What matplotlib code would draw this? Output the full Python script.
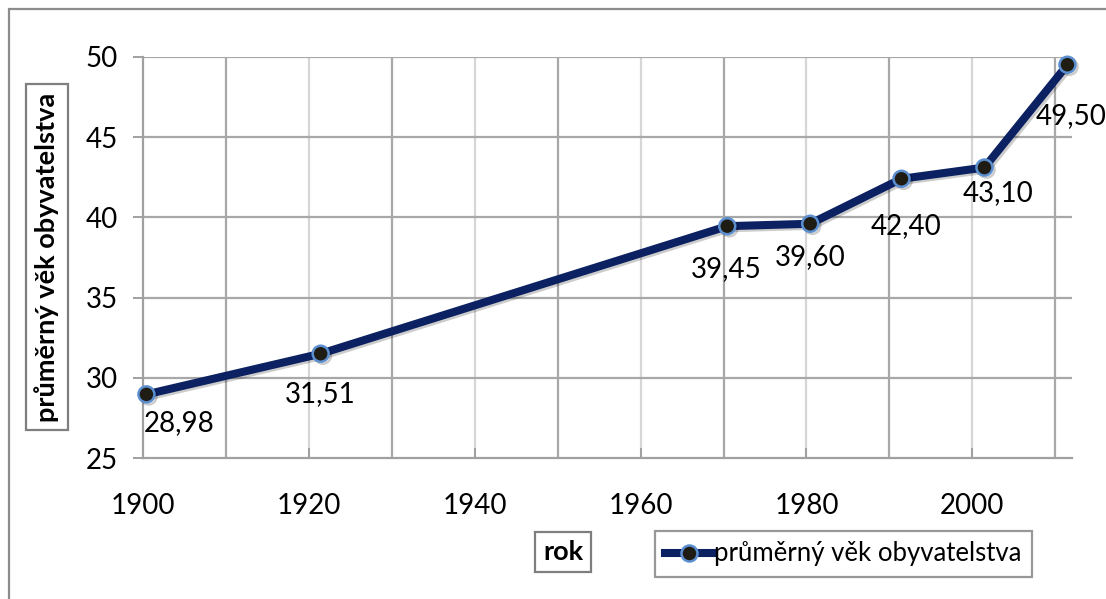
import matplotlib
matplotlib.use("Agg")
import matplotlib.pyplot as plt
import matplotlib.patheffects as pe
from matplotlib.patches import Rectangle

# ---- data ----
years = [1900, 1921, 1970, 1980, 1991, 2001, 2011]
avg_age = [28.98, 31.51, 39.45, 39.60, 42.40, 43.10, 49.50]
value_labels = ["28,98", "31,51", "39,45", "39,60", "42,40", "43,10", "49,50"]
series_name = "průměrný věk obyvatelstva"
x_title = "rok"
y_title = "průměrný věk obyvatelstva"
x_ticks = [1900, 1920, 1940, 1960, 1980, 2000]
y_ticks = [25, 30, 35, 40, 45, 50]

# ---- styling ----
label_offsets_px = [(33, -29), (0, -40), (-1, -43), (0, -33), (5, -47), (14, -26), (4, -51)]
x_shift = 0.45  # points sit mid-year on the date axis
FONT = "Lato"
plt.rcParams['font.family'] = [FONT, 'DejaVu Sans']

W, H = 1106, 599
fig = plt.figure(figsize=(W / 100, H / 100), dpi=100)
fig.patch.set_facecolor("white")

# outer chart border (cropped at right and bottom)
fig.patches.append(Rectangle((8.5 / W, -0.05), 1.2, 1 - 8.5 / H + 0.05, transform=fig.transFigure,
                             fill=False, ec="#8c8c8c", lw=1.6, zorder=0))

L, R, T, B = 142.7, 1072, 56.7, 458.3
ax = fig.add_axes([L / W, 1 - B / H, (R - L) / W, (B - T) / H])
ax.set_xlim(1900, 2012)
ax.set_ylim(25, 50)

# gridlines
for xv in range(1910, 2012, 20):
    ax.axvline(xv, color="#a8a8a8", lw=1.6, zorder=1)
for xv in range(1920, 2012, 20):
    ax.axvline(xv, color="#d6d6d6", lw=1.6, zorder=1)
for yv in y_ticks[1:]:
    ax.axhline(yv, color="#a8a8a8", lw=1.6, zorder=1)

for s in ["top", "right"]:
    ax.spines[s].set_visible(False)
for s in ["left", "bottom"]:
    ax.spines[s].set_color("#a0a0a0")
    ax.spines[s].set_linewidth(1.6)

ax.set_xticks(x_ticks)
ax.set_yticks(y_ticks)
ax.tick_params(axis="x", direction="in", length=7, width=1.4, color="#a0a0a0",
               labelsize=20, pad=25, labelcolor="black")
ax.tick_params(axis="y", direction="out", length=7, width=1.4, color="#a0a0a0",
               labelsize=20, pad=11, labelcolor="black")

xs = [y + x_shift for y in years]
line, = ax.plot(xs, avg_age, color="#0b2161", lw=5.8, marker="o", markersize=11.5,
                markerfacecolor="#1f1c14", markeredgecolor="#5b8fd0", markeredgewidth=1.8,
                zorder=5, clip_on=False, label=series_name,
                path_effects=[pe.SimpleLineShadow(offset=(1.5, -1.5), alpha=0.2, shadow_color="black"),
                              pe.Normal()])

for x, y, t, (dx, dy) in zip(xs, avg_age, value_labels, label_offsets_px):
    ax.annotate(t, (x, y), xytext=(dx, dy), textcoords="offset pixels",
                ha="center", va="center", fontsize=20, color="black", zorder=6,
                annotation_clip=False)

box = dict(boxstyle="square,pad=0.3", fc="white", ec="#7f7f7f", lw=1.6)
fig.text(47 / W, 1 - 257 / H, y_title, rotation=90, ha="center", va="center",
         fontsize=19.5, fontweight="bold", bbox=box)
fig.text(563 / W, 1 - 552 / H, x_title, ha="center", va="center",
         fontsize=19.5, fontweight="bold", bbox=box)

leg = fig.legend(handles=[line], labels=[series_name], loc="center",
                 bbox_to_anchor=(843.5 / W, 1 - 554 / H), fontsize=18.5, frameon=True,
                 fancybox=False, handlelength=1.8, handletextpad=0.1, borderpad=0.4,
                 borderaxespad=0)
leg.get_frame().set_edgecolor("#7f7f7f")
leg.get_frame().set_linewidth(1.6)
for h in leg.legend_handles:
    h.set_path_effects([])

fig.savefig("out.png", dpi=100)
